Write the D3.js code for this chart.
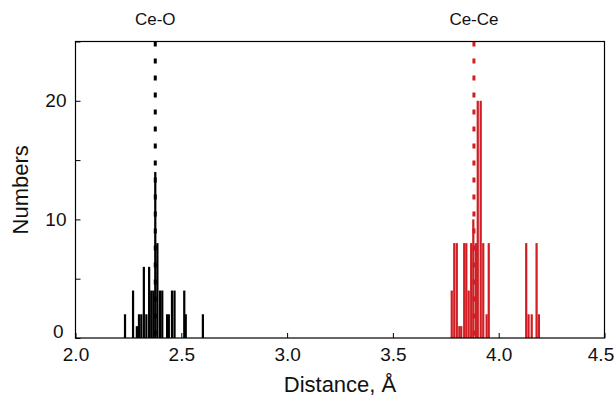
<!DOCTYPE html>
<html>
<head>
<meta charset="utf-8">
<script src="https://cdn.jsdelivr.net/npm/d3@7"></script>
<style>
  body { margin: 0; background: #fff; }
  text { font-family: "Liberation Sans", Arial, sans-serif; fill: #111; }
</style>
</head>
<body>
<div id="chart"></div>
<script>
// Ce-O distances (A) and counts
const ceODist   = [2.234, 2.272, 2.290, 2.300, 2.311, 2.323, 2.335, 2.348, 2.358, 2.368, 2.377, 2.387, 2.399, 2.410, 2.433, 2.441, 2.456, 2.468, 2.514, 2.521, 2.602]
const ceOCounts = [2,     4,     1,     2,     2,     6,     2,     6,     4,     4,     14,    8,     4,     4,     2,     2,     4,     4,     4,     2,     2]

// Ce-Ce distances (A) and counts
const ceCeDist   = [3.778, 3.790, 3.802, 3.814, 3.823, 3.837, 3.847, 3.858, 3.870, 3.880, 3.892, 3.901, 3.915, 3.927, 3.943, 3.953, 4.130, 4.141, 4.156, 4.179, 4.190]
const ceCeCounts = [4,     8,     8,     1,     1,     8,     8,     4,     8,     10,    8,     20,    20,    8,     2,     8,     8,     2,     2,     8,     2]

// mean distances (dashed markers)
const markers = [
  {label: "Ce-O", value: 2.377, color: "#000"},
  {label: "Ce-Ce", value: 3.883, color: "#cf1f24"}
]

const xTicks = [2.0, 2.5, 3.0, 3.5, 4.0, 4.5]
const yTicks = [0, 5, 10, 15, 20, 25]
const yLabels = [0, 10, 20]

const width = 615
const height = 401
const margin = {left: 75.5, right: 10.5, top: 41.5, bottom: 63}

const svg = d3.select("#chart")
  .append("svg")
  .attr("width", width)
  .attr("height", height)

const x = d3.scaleLinear()
  .domain([2.0, 4.5])
  .range([margin.left, width - margin.right])

const y = d3.scaleLinear()
  .domain([0, 25])
  .range([height - margin.bottom, margin.top])

const binW = 0.0105

const drawBars = (dist, counts, color) => {
  svg.append("g")
    .selectAll("rect")
    .data(dist.map((b, i) => ({b, c: counts[i]})))
    .join("rect")
    .attr("x", d => x(d.b - binW / 2))
    .attr("width", d => x(d.b + binW / 2) - x(d.b - binW / 2))
    .attr("y", d => y(d.c))
    .attr("height", d => y(0) - y(d.c))
    .attr("fill", color)
}

drawBars(ceODist, ceOCounts, "#000")
drawBars(ceCeDist, ceCeCounts, "#cf1f24")

// dashed markers
svg.append("g")
  .selectAll("line")
  .data(markers)
  .join("line")
  .attr("x1", d => x(d.value))
  .attr("x2", d => x(d.value))
  .attr("y1", y(25))
  .attr("y2", y(0))
  .attr("stroke", d => d.color)
  .attr("stroke-width", 3)
  .attr("stroke-dasharray", "5,12")

svg.append("g")
  .selectAll("text")
  .data(markers)
  .join("text")
  .attr("x", d => x(d.value))
  .attr("y", 25)
  .attr("text-anchor", "middle")
  .attr("font-size", 17)
  .text(d => d.label)

// frame
svg.append("rect")
  .attr("x", x(2.0))
  .attr("y", y(25))
  .attr("width", x(4.5) - x(2.0))
  .attr("height", y(0) - y(25))
  .attr("fill", "none")
  .attr("stroke", "#000")
  .attr("stroke-width", 1.2)

// axis bottom (ticks inward)
const xAxis = svg.append("g")
  .attr("transform", `translate(0, ${y(0)})`)
  .call(d3.axisBottom(x).tickValues(xTicks).tickSize(-5).tickPadding(10).tickFormat(d3.format(".1f")))
xAxis.select(".domain").remove()
xAxis.selectAll("text").attr("font-size", 19).attr("font-family", "Liberation Sans, Arial, sans-serif")
// keep the last label inside the page
xAxis.selectAll(".tick").filter(d => d === 4.5).select("text").attr("dx", -4)

// left axis (ticks inward)
const yAxis = svg.append("g")
  .attr("transform", `translate(${x(2.0)}, 0)`)
  .call(d3.axisLeft(y).tickValues(yTicks).tickSize(-5).tickPadding(9)
    .tickFormat(d => yLabels.includes(d) ? d : ""))
yAxis.select(".domain").remove()
yAxis.selectAll("text").attr("font-size", 19).attr("font-family", "Liberation Sans, Arial, sans-serif")
// lift the "0" label clear of the "2.0" label
yAxis.selectAll(".tick").filter(d => d === 0).select("text").attr("dy", "-0.05em").attr("dx", -3)

// axis titles
svg.append("text")
  .attr("x", (x(2.0) + x(4.5)) / 2)
  .attr("y", 392)
  .attr("text-anchor", "middle")
  .attr("font-size", 22)
  .text("Distance, Å")

svg.append("text")
  .attr("transform", `translate(28, ${(y(0) + y(25)) / 2}) rotate(-90)`)
  .attr("text-anchor", "middle")
  .attr("font-size", 22)
  .text("Numbers")
</script>
</body>
</html>
